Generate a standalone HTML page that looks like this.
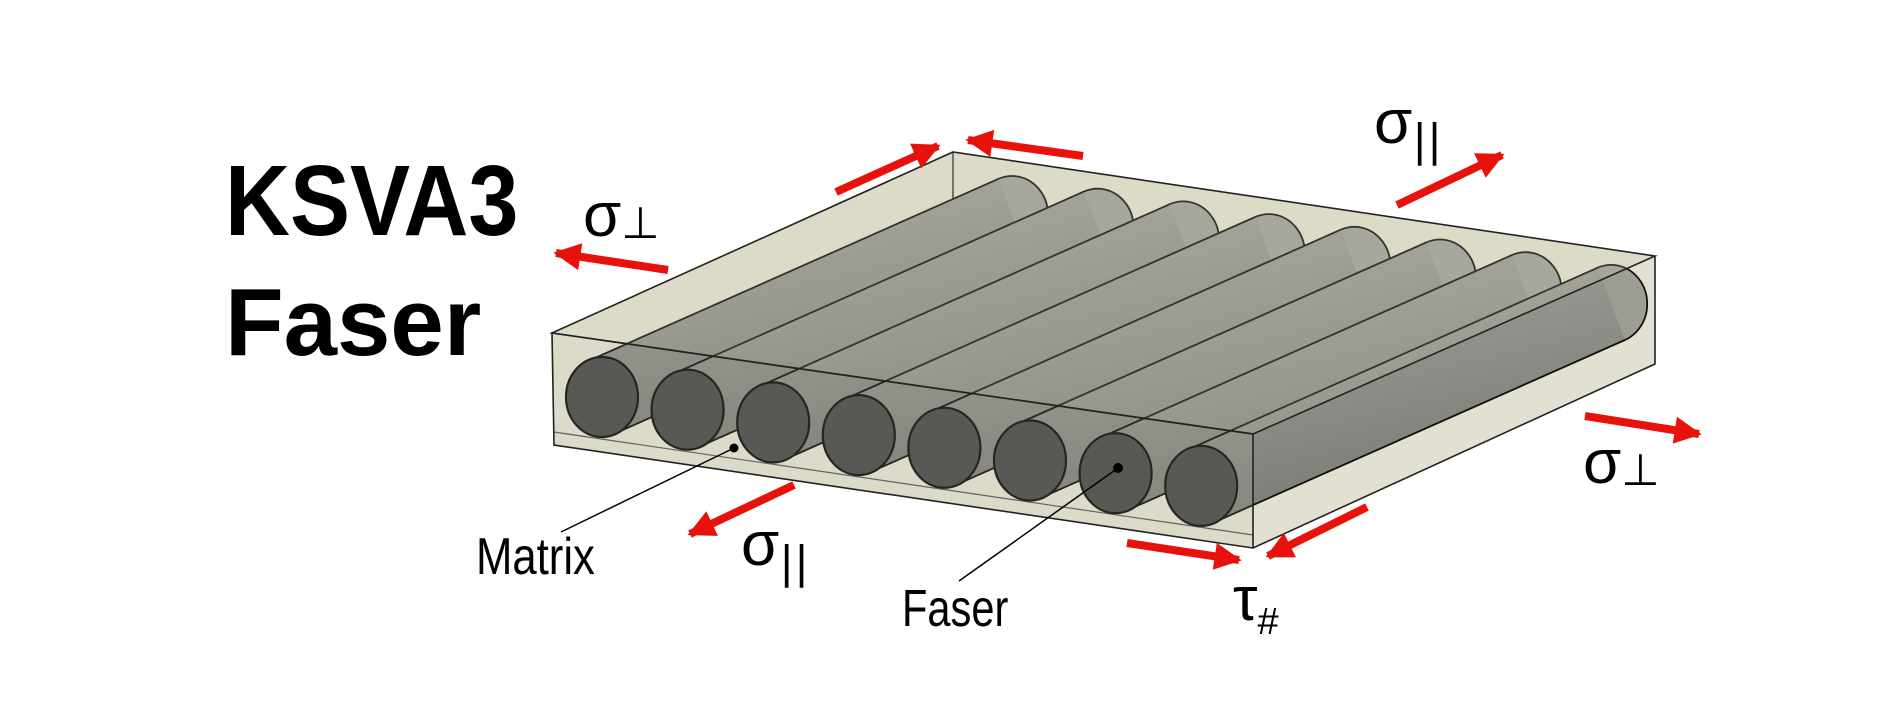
<!DOCTYPE html>
<html><head><meta charset="utf-8"><style>
html,body{margin:0;padding:0;background:#fff}
svg{display:block}
text{font-family:"Liberation Sans",sans-serif}
</style></head><body>
<svg width="1881" height="701" viewBox="0 0 1881 701" xmlns="http://www.w3.org/2000/svg">
<defs>
<linearGradient id="fb" x1="0" y1="0" x2="0.4" y2="1">
<stop offset="0" stop-color="#a5a59e"/><stop offset="0.5" stop-color="#8f8f89"/><stop offset="1" stop-color="#797974"/>
</linearGradient>
<marker id="ah" viewBox="0 0 10 10" refX="9" refY="5" markerWidth="3.6" markerHeight="3.4" orient="auto" markerUnits="strokeWidth">
<path d="M0,0 L10,5 L0,10 z" fill="#e8120c"/></marker>
</defs>
<polygon points="552,333 953,152 1655,256 1253,434" fill="#dddccb"/>
<polygon points="552,333 1253,434 1253,548 554,445" fill="#dddccb"/>
<polygon points="1253,434 1655,256 1655,364 1253,548" fill="#e2e1d1"/>
<line x1="953" y1="152" x2="953" y2="240" stroke="#333" stroke-width="1.5"/>
<line x1="554" y1="432" x2="1253" y2="535" stroke="#555" stroke-width="1.2"/>
<g id="fibers" stroke="#111" stroke-width="1.8">
</g>
<script>
(function(){
var g=document.getElementById('fibers'),ns='http://www.w3.org/2000/svg';
var dx=410,dy=-182,ox=13.7,oy=36.1;
for(var i=0;i<8;i++){
 var cx=602+85.6*i, cy=397+12.7*i, bx=cx+dx, by=cy+dy;
 var e=document.createElementNS(ns,'ellipse');
 e.setAttribute('cx',bx);e.setAttribute('cy',by);e.setAttribute('rx',36);e.setAttribute('ry',39);e.setAttribute('fill','#9d9d96');g.appendChild(e);
 var p=document.createElementNS(ns,'polygon');
 p.setAttribute('points',(cx+ox)+','+(cy+oy)+' '+(bx+ox)+','+(by+oy)+' '+(bx-ox)+','+(by-oy)+' '+(cx-ox)+','+(cy-oy));
 p.setAttribute('fill','url(#fb)');p.setAttribute('stroke','none');g.appendChild(p);
 [[1,1],[-1,-1]].forEach(function(s){var l=document.createElementNS(ns,'line');
  l.setAttribute('x1',cx+s[0]*ox);l.setAttribute('y1',cy+s[1]*oy);l.setAttribute('x2',bx+s[0]*ox);l.setAttribute('y2',by+s[1]*oy);g.appendChild(l);});
 var f=document.createElementNS(ns,'ellipse');
 f.setAttribute('cx',cx);f.setAttribute('cy',cy);f.setAttribute('rx',36);f.setAttribute('ry',40);f.setAttribute('fill','#4a4a4a');f.setAttribute('stroke-width','2.2');g.appendChild(f);
}
})();
</script>
<polygon points="552,333 953,152 1655,256 1253,434" fill="#d8d6bf" opacity="0.18"/>
<polygon points="552,333 1253,434 1253,548 554,445" fill="#d8d6bf" opacity="0.1"/>
<g fill="none" stroke="#222" stroke-width="1.6">
<polygon points="552,333 953,152 1655,256 1253,434"/>
<polygon points="552,333 1253,434 1253,548 554,445"/>
<polyline points="1655,256 1655,364 1253,548"/>
</g>
<g stroke="#000" stroke-width="1.5">
<line x1="734" y1="448" x2="561" y2="532"/>
<line x1="1118" y1="468" x2="959" y2="581"/>
</g>
<circle cx="734" cy="448" r="4.5" fill="#000"/>
<circle cx="1118" cy="468" r="5" fill="#000"/>
<g stroke="#e8120c" stroke-width="8" marker-end="url(#ah)" fill="none">
<line x1="668" y1="270" x2="556" y2="253"/>
<line x1="836" y1="192" x2="938" y2="146"/>
<line x1="1083" y1="156" x2="968" y2="140"/>
<line x1="1397" y1="205" x2="1502" y2="155"/>
<line x1="1585" y1="416" x2="1699" y2="434"/>
<line x1="794" y1="485" x2="690" y2="534"/>
<line x1="1127" y1="543" x2="1239" y2="560"/>
<line x1="1367" y1="507" x2="1268" y2="556"/>
</g>
<text x="225" y="235" font-size="100" font-weight="bold" transform="translate(225 0) scale(0.9 1) translate(-225 0)">KSVA3</text>
<text x="225" y="355" font-size="96" font-weight="bold">Faser</text>
<g font-size="62">
<text x="583" y="236">σ<tspan font-size="44" dy="2">⊥</tspan></text>
<text x="1374" y="143">σ<tspan font-size="44" dy="12" font-family="DejaVu Sans">||</tspan></text>
<text x="1583" y="483">σ<tspan font-size="44" dy="2">⊥</tspan></text>
<text x="741" y="565">σ<tspan font-size="44" dy="12" font-family="DejaVu Sans">||</tspan></text>
<text x="1233" y="620">τ<tspan font-size="38" dy="14">#</tspan></text>
</g>
<text x="476" y="574" font-size="52" transform="translate(476 0) scale(0.84 1) translate(-476 0)">Matrix</text>
<text x="902" y="626" font-size="52" transform="translate(902 0) scale(0.8 1) translate(-902 0)">Faser</text>
</svg>
</body></html>
